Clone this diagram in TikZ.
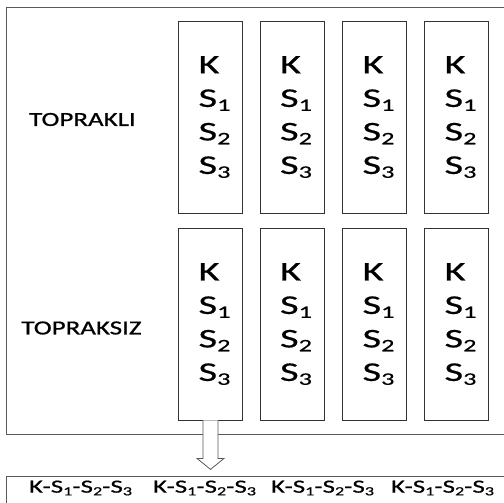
\documentclass[tikz,border=0pt]{standalone}
\usepackage{fontspec}
\setmainfont{Carlito}
\newfontfamily\cellfont{Carlito}[FakeStretch=1.5, FakeBold=0.6]
\newfontfamily\lblfont{Carlito}[FakeStretch=1.35, FakeBold=0.8]
\newfontfamily\seqfont{Carlito}[FakeStretch=1.45, FakeBold=0.6]
\usetikzlibrary{calc}
\newcommand{\lowsub}[1]{\raisebox{-0.3ex}{\fontsize{17.5}{17.5}\selectfont #1}}
\newcommand{\smallsub}[1]{\raisebox{-0.3ex}{\fontsize{12.5}{12.5}\selectfont #1}}
\tikzset{
  frame/.style={draw=black!65, line width=0.9pt, inner sep=0pt, anchor=north west},
  cell/.style={draw=black!80, line width=0.8pt, minimum width=64pt, minimum height=192pt, inner sep=0pt},
  celltext/.style={inner sep=0pt, align=left, font=\cellfont\fontsize{27}{33.5}\selectfont},
  lbl/.style={font=\lblfont\fontsize{20}{24}\selectfont, inner sep=0pt},
  seq/.style={font=\seqfont\fontsize{18.6}{20}\selectfont, inner sep=0pt},
  harrow/.style={draw=black!65, line width=0.8pt, fill=white}
}
\newcommand{\cellText}{K\\S\lowsub{1}\\S\lowsub{2}\\S\lowsub{3}}
\newcommand{\seqText}{K-S\smallsub{1}-S\smallsub{2}-S\smallsub{3}}
\begin{document}
\begin{tikzpicture}[x=1pt, y=-1pt]
\useasboundingbox (0,0) rectangle (504,503);
\clip (0,0) rectangle (504,503);
\node[frame, minimum width=520pt, minimum height=427pt] (outer) at (6,7) {};
\node[frame, minimum width=520pt, minimum height=60pt] (result) at (6,476) {};
% top row
\node[cell] (a1) at (210.5,117) {};
\node[cell] (a2) at (292,117) {};
\node[cell] (a3) at (374.5,117) {};
\node[cell] (a4) at (456.5,117) {};
% bottom row
\node[cell] (b1) at (210.5,324) {};
\node[cell] (b2) at (292,324) {};
\node[cell] (b3) at (374.5,324) {};
\node[cell] (b4) at (456.5,324) {};
% cell contents
\foreach \c in {a1,a2,a3,a4,b1,b2,b3,b4}
  \node[celltext] (\c t) at ($(\c)+(4,0)$) {\cellText};
% labels
\node[lbl] (top) at (82.5,119.5) {TOPRAKLI};
\node[lbl] (bot) at (81.5,328) {TOPRAKSIZ};
% sequence texts
\node[seq] (s1) at (80.5,488) {\seqText};
\node[seq] (s2) at (204.5,488) {\seqText};
\node[seq] (s3) at (322.5,488) {\seqText};
\node[seq] (s4) at (442.5,488) {\seqText};
% hollow arrow
\draw[harrow] ($(b1.south)+(-7.5,0)$) -- ($(b1.south)+(-7.5,38)$) -- ($(b1.south)+(-13.5,38)$)
  -- ($(b1.south)+(0,49)$) -- ($(b1.south)+(13.5,38)$) -- ($(b1.south)+(7.5,38)$) -- ($(b1.south)+(7.5,0)$);
\end{tikzpicture}
\end{document}
